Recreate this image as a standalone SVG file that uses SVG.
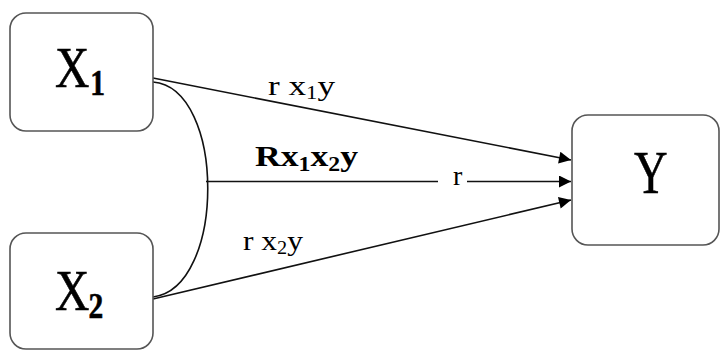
<svg xmlns="http://www.w3.org/2000/svg" width="721" height="351" viewBox="0 0 721 351">
<defs>
<style>
.box{fill:#fff;stroke:#555;stroke-width:1.6}
.ln{fill:none;stroke:#111;stroke-width:1.6}
.t{font-family:"Liberation Serif","Times New Roman",serif;fill:#000}
.big{stroke:#000;stroke-width:0.6}
</style>
<marker id="ah" viewBox="0 0 10 10" refX="10" refY="5" markerWidth="17" markerHeight="12" markerUnits="userSpaceOnUse" orient="auto">
<path d="M0,0 L10,5 L0,10 z" fill="#000"/>
</marker>
</defs>
<rect width="721" height="351" fill="#fff"/>
<g id="connectors">
<line class="ln" x1="153" y1="78" x2="571" y2="160" marker-end="url(#ah)"/>
<path class="ln" d="M153,82 C226,88 226,288 153,297"/>
<line class="ln" x1="206" y1="181.5" x2="438" y2="181.5"/>
<line class="ln" x1="467" y1="181.5" x2="571" y2="181.5" marker-end="url(#ah)"/>
<line class="ln" x1="153" y1="299" x2="571" y2="200" marker-end="url(#ah)"/>
</g>
<g id="labels">
<text class="t" x="268" y="95" font-size="28" textLength="67" lengthAdjust="spacingAndGlyphs">r x<tspan font-size="18" dy="4">1</tspan><tspan dy="-4">y</tspan></text>
<text class="t" x="255" y="166" font-size="30" font-weight="bold" textLength="103" lengthAdjust="spacingAndGlyphs">Rx<tspan font-size="20" dy="5">1</tspan><tspan dy="-5">x</tspan><tspan font-size="20" dy="5">2</tspan><tspan dy="-5">y</tspan></text>
<text class="t" x="453" y="185" font-size="28">r</text>
<text class="t" x="243" y="250" font-size="28" textLength="60" lengthAdjust="spacingAndGlyphs">r x<tspan font-size="18" dy="4">2</tspan><tspan dy="-4">y</tspan></text>
</g>
<g id="X1">
<rect class="box" x="10" y="13" width="143" height="118" rx="16"/>
<text class="t big" transform="translate(55,87) scale(0.82,1)" font-size="58">X<tspan font-size="36" font-weight="bold" dx="1" dy="8">1</tspan></text>
</g>
<g id="X2">
<rect class="box" x="10" y="233" width="143" height="116" rx="16"/>
<text class="t big" transform="translate(55,310) scale(0.82,1)" font-size="58">X<tspan font-size="36" font-weight="bold" dx="-1" dy="8">2</tspan></text>
</g>
<g id="Y">
<rect class="box" x="572" y="115" width="147" height="130" rx="16"/>
<text class="t big" transform="translate(634,193) scale(0.75,1)" font-size="62">Y</text>
</g>
</svg>
